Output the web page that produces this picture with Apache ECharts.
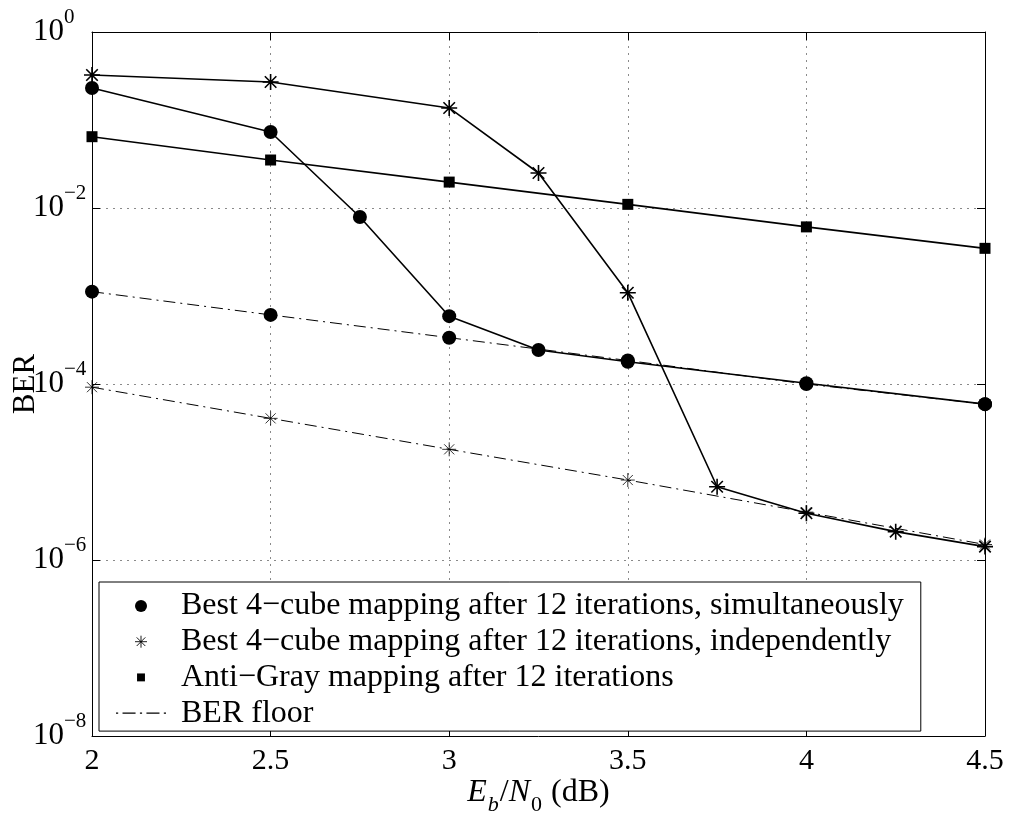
<!DOCTYPE html>
<html><head><meta charset="utf-8">
<script src="https://cdn.jsdelivr.net/npm/echarts@6/dist/echarts.min.js"></script>
<style>html,body{margin:0;padding:0;background:#fff}#c{width:1012px;height:820px}</style>
</head><body><div id="c"></div>
<script>
// ---- data ----
const xSim = [2, 2.5, 2.75, 3, 3.25, 3.5, 4, 4.5];
const ySim = [0.231, 0.073, 0.0079, 5.9e-4, 2.43e-4, 1.79e-4, 1.02e-4, 5.9e-5];
const xInd = [2, 2.5, 3, 3.25, 3.5, 3.75, 4, 4.25, 4.5];
const yInd = [0.325, 0.27, 0.137, 0.025, 1.09e-3, 6.8e-6, 3.4e-6, 2.1e-6, 1.42e-6];
const xAnti = [2, 2.5, 3, 3.5, 4, 4.5];
const yAnti = [0.0646, 0.0351, 0.0197, 0.0110, 6.1e-3, 3.48e-3];
const xFloor = [2, 2.5, 3, 3.5, 4, 4.5];
const yFloorSim = [1.12e-3, 6.1e-4, 3.36e-4, 1.85e-4, 1.0e-4, 5.9e-5];
const yFloorInd = [9.2e-5, 4.07e-5, 1.81e-5, 8.1e-6, 3.5e-6, 1.5e-6];
const xTicks = [2, 2.5, 3, 3.5, 4, 4.5];
const yTickExponents = [0, -2, -4, -6, -8];
const names = [
  'Best 4\u2212cube mapping after 12 iterations, simultaneously',
  'Best 4\u2212cube mapping after 12 iterations, independently',
  'Anti\u2212Gray mapping after 12 iterations',
  'BER floor'
];

const FONT = 'Liberation Serif';
const zip = (xs, ys) => xs.map((x, i) => [x, ys[i]]);
const STAR = 'path://M-1,0L1,0M0,-1L0,1M-0.72,-0.72L0.72,0.72M-0.72,0.72L0.72,-0.72';
const SQ_SMALL = 'path://M-1,-1M1,1M-0.66,-0.66L0.66,-0.66L0.66,0.66L-0.66,0.66Z';
const DASHDOT = 'path://M0,0h2v1h-2z M6,0h12v1h-12z M22,0h2v1h-2z M28,0h12v1h-12z M44,0h2v1h-2z';
const supMinus = e => (e < 0 ? '\u2212' + (-e) : '' + e);

const chart = echarts.init(document.getElementById('c'), null, {renderer: 'canvas'});
const yMin = Math.pow(10, Math.min(...yTickExponents));
const yMax = Math.pow(10, Math.max(...yTickExponents));
const xMin = xTicks[0], xMax = xTicks[xTicks.length - 1];

const gridLine = {show: true, lineStyle: {color: '#8a8a8a', width: 1, type: [2, 5]}};
const tick = {show: true, inside: true, length: 8, lineStyle: {color: '#000', width: 1}};
const axLine = {show: true, onZero: false, lineStyle: {color: '#000', width: 1}};

chart.setOption({
  animation: false,
  backgroundColor: '#fff',
  grid: {left: 92, top: 32, right: 27, bottom: 84, containLabel: false, outerBoundsMode: 'none'},
  xAxis: [{
    type: 'value', min: xMin, max: xMax, interval: 0.5, position: 'bottom',
    axisLine: axLine, axisTick: tick, splitLine: gridLine,
    axisLabel: {color: '#000', fontFamily: FONT, fontSize: 30, margin: 10},
    name: '{i|E}{sbi|b}{n|/}{i|N}{sb|0}{n| (dB)}',
    nameLocation: 'middle', nameGap: 34, nameMoveOverlap: false,
    nameTextStyle: {
      color: '#000', fontFamily: FONT, fontSize: 32,
      rich: {
        i: {fontFamily: FONT, fontSize: 32, fontStyle: 'italic', color: '#000'},
        n: {fontFamily: FONT, fontSize: 32, color: '#000'},
        sb: {fontFamily: FONT, fontSize: 22, color: '#000', padding: [24, 1, 0, 1]},
        sbi: {fontFamily: FONT, fontSize: 22, fontStyle: 'italic', color: '#000', padding: [24, 1, 0, 1]}
      }
    }
  }, {
    type: 'value', min: xMin, max: xMax, interval: 0.5, position: 'top',
    axisLine: axLine, axisTick: tick, splitLine: {show: false}, axisLabel: {show: false}
  }],
  yAxis: [{
    type: 'log', logBase: 100, min: yMin, max: yMax, position: 'left',
    axisLine: axLine, axisTick: tick, splitLine: gridLine, minorTick: {show: false},
    axisLabel: {
      align: 'left', margin: 59, color: '#000',
      formatter: v => {
        const e = Math.round(Math.log10(v));
        return yTickExponents.includes(e) ? '{b|10}{s|' + supMinus(e) + '}' : '';
      },
      rich: {
        b: {fontFamily: FONT, fontSize: 31, color: '#000'},
        s: {fontFamily: FONT, fontSize: 21, color: '#000', padding: [0, 0, 30, 0]}
      }
    },
    name: 'BER', nameLocation: 'middle', nameGap: 51, nameRotate: 90, nameMoveOverlap: false,
    nameTextStyle: {color: '#000', fontFamily: FONT, fontSize: 31}
  }, {
    type: 'log', logBase: 100, min: yMin, max: yMax, position: 'right',
    axisLine: axLine, axisTick: tick, splitLine: {show: false}, axisLabel: {show: false}
  }],
  legend: {
    orient: 'vertical', left: 99, top: 582,
    data: [
      {name: names[0], icon: 'circle', itemStyle: {color: '#000', borderWidth: 0}},
      {name: names[1], icon: STAR, itemStyle: {color: '#000', borderColor: '#000', borderWidth: 0.9}},
      {name: names[2], icon: SQ_SMALL, itemStyle: {color: '#000', borderWidth: 0}},
      {name: names[3], icon: DASHDOT, itemStyle: {color: '#000', borderWidth: 0}}
    ],
    itemWidth: 50, itemHeight: 12, itemGap: 3.7,
    padding: [8, 17, 2, 17],
    borderColor: '#000', borderWidth: 1, backgroundColor: '#fff',
    selectedMode: false,
    textStyle: {fontFamily: FONT, fontSize: 32, color: '#000', lineHeight: 30, padding: [0, 0, 0, 10]}
  },
  series: [
    {
      name: names[3], type: 'line', data: zip(xFloor, yFloorSim), clip: false, z: 2,
      symbol: 'circle', symbolSize: 14, showSymbol: true,
      lineStyle: {color: '#000', width: 1, type: [12, 5, 2, 5]},
      itemStyle: {color: '#000', borderWidth: 0}, emphasis: {disabled: true}
    },
    {
      name: names[3], type: 'line', data: zip(xFloor, yFloorInd), clip: false, z: 2,
      symbol: STAR, symbolSize: 14, showSymbol: true, symbolKeepAspect: true,
      lineStyle: {color: '#000', width: 1, type: [12, 5, 2, 5]},
      itemStyle: {color: '#000', borderColor: '#000', borderWidth: 0.8}, emphasis: {disabled: true}
    },
    {
      name: names[0], type: 'line', data: zip(xSim, ySim), clip: false, z: 3,
      symbol: 'circle', symbolSize: 14, showSymbol: true,
      lineStyle: {color: '#000', width: 1.6},
      itemStyle: {color: '#000', borderWidth: 0}, emphasis: {disabled: true}
    },
    {
      name: names[1], type: 'line', data: zip(xInd, yInd), clip: false, z: 3,
      symbol: STAR, symbolSize: 16, showSymbol: true, symbolKeepAspect: true,
      lineStyle: {color: '#000', width: 1.6},
      itemStyle: {color: '#000', borderColor: '#000', borderWidth: 1.6}, emphasis: {disabled: true}
    },
    {
      name: names[2], type: 'line', data: zip(xAnti, yAnti), clip: false, z: 3,
      symbol: 'rect', symbolSize: 11, showSymbol: true,
      lineStyle: {color: '#000', width: 1.6},
      itemStyle: {color: '#000', borderWidth: 0}, emphasis: {disabled: true}
    }
  ]
});
</script></body></html>
